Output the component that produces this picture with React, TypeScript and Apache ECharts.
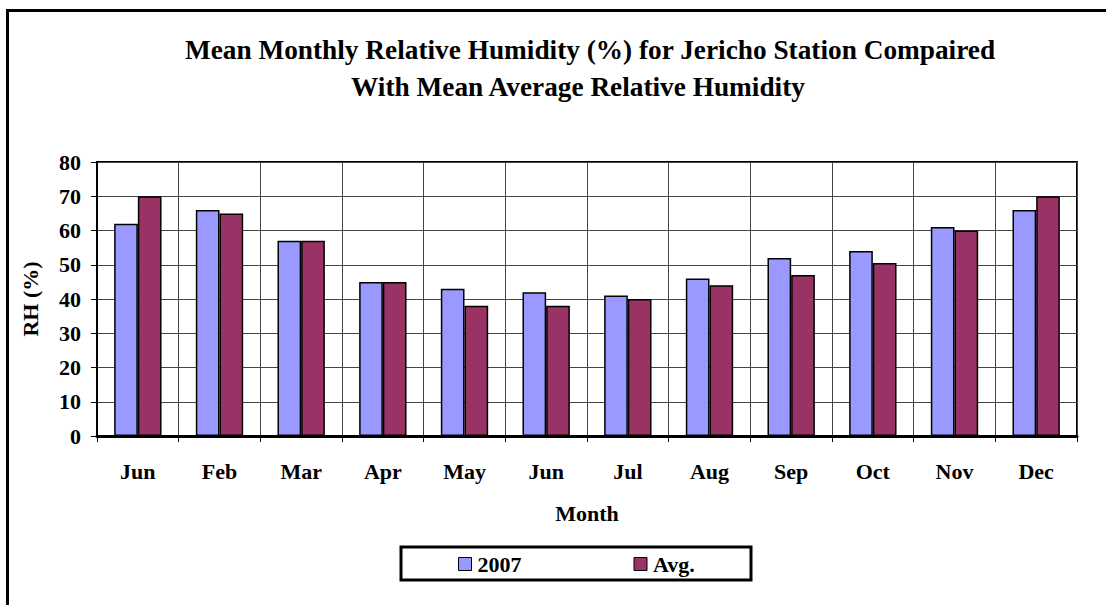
import React, { useEffect, useRef } from "react";
import * as echarts from "echarts";

const months = ["Jun", "Feb", "Mar", "Apr", "May", "Jun", "Jul", "Aug", "Sep", "Oct", "Nov", "Dec"];
const rh2007 = [62, 66, 57, 45, 43, 42, 41, 46, 52, 54, 61, 66];
const rhAvg = [70, 65, 57, 45, 38, 38, 40, 44, 47, 50.5, 60, 70];
const yTicks = { min: 0, max: 80, interval: 10 };

const titleLine1 = "Mean Monthly Relative Humidity (%) for Jericho Station Compaired";
const titleLine2 = "With Mean Average Relative Humidity";

const FONT = "'Liberation Serif', 'Times New Roman', serif";

export default function App() {
  const ref = useRef<HTMLDivElement>(null);
  useEffect(() => {
    if (!ref.current) return;
    const chart = echarts.init(ref.current, null, { renderer: "svg" });
    const labelStyle = { fontFamily: FONT, fontWeight: "bold" as const, fontSize: 22, color: "#000" };
    chart.setOption({
      animation: false,
      backgroundColor: "#fff",
      graphic: [
        {
          type: "rect",
          shape: { x: 7.5, y: 10.5, width: 1300, height: 800 },
          style: { fill: "none", stroke: "#000", lineWidth: 3 },
          silent: true,
        },
        {
          type: "text",
          x: 590,
          y: 50,
          style: {
            text: titleLine1,
            fontFamily: FONT,
            fontWeight: "bold",
            fontSize: 27.3,
            fill: "#000",
            align: "center",
            verticalAlign: "middle",
          },
        },
        {
          type: "text",
          x: 578,
          y: 87,
          style: {
            text: titleLine2,
            fontFamily: FONT,
            fontWeight: "bold",
            fontSize: 27.3,
            fill: "#000",
            align: "center",
            verticalAlign: "middle",
          },
        },
        {
          type: "rect",
          shape: { x: 401, y: 547, width: 350, height: 33 },
          style: { fill: "#fff", stroke: "#000", lineWidth: 3 },
          z: 0,
        },
      ],
      legend: {
        left: 453,
        top: 548,
        itemWidth: 13,
        itemHeight: 13,
        itemGap: 112,
        icon: "rect",
        textStyle: { ...labelStyle, padding: [0, 0, 0, 1] },
        z: 10,
        data: [
          { name: "2007", itemStyle: { borderColor: "#000", borderWidth: 1 } },
          { name: "Avg.", itemStyle: { borderColor: "#000", borderWidth: 1 } },
        ],
      },
      grid: {
        left: 97,
        right: 1106 - 1077,
        top: 162,
        bottom: 605 - 436,
        show: true,
        borderColor: "#000",
        borderWidth: 2,
        containLabel: false,
      },
      xAxis: {
        type: "category",
        data: months,
        name: "Month",
        nameLocation: "middle",
        nameGap: 66,
        nameTextStyle: labelStyle,
        axisLine: { show: true, lineStyle: { color: "#000", width: 3 } },
        axisTick: { show: true, length: 6, lineStyle: { color: "#000", width: 1 }, interval: 0 },
        axisLabel: { ...labelStyle, margin: 24, interval: 0 },
        splitLine: { show: true, interval: 0, lineStyle: { color: "#444", width: 1 } },
      },
      yAxis: {
        type: "value",
        min: yTicks.min,
        max: yTicks.max,
        interval: yTicks.interval,
        name: "RH (%)",
        nameLocation: "middle",
        nameGap: 56,
        nameRotate: 90,
        nameTextStyle: labelStyle,
        axisLine: { show: true, lineStyle: { color: "#000", width: 2 } },
        axisTick: { show: true, length: 6, lineStyle: { color: "#000", width: 1 } },
        axisLabel: { ...labelStyle, margin: 16 },
        splitLine: { show: true, lineStyle: { color: "#444", width: 1 } },
      },
      series: [
        {
          name: "2007",
          type: "bar",
          data: rh2007,
          barGap: "0%",
          barCategoryGap: "42%",
          itemStyle: { color: "#9999FF", borderColor: "#000", borderWidth: 1.5 },
        },
        {
          name: "Avg.",
          type: "bar",
          data: rhAvg,
          barGap: "0%",
          barCategoryGap: "42%",
          itemStyle: { color: "#993366", borderColor: "#000", borderWidth: 1.5 },
        },
      ],
    });
    return () => chart.dispose();
  }, []);
  return (
    <div
      ref={ref}
      style={{ position: "fixed", left: 0, top: 0, width: 1106, height: 605 }}
    />
  );
}
